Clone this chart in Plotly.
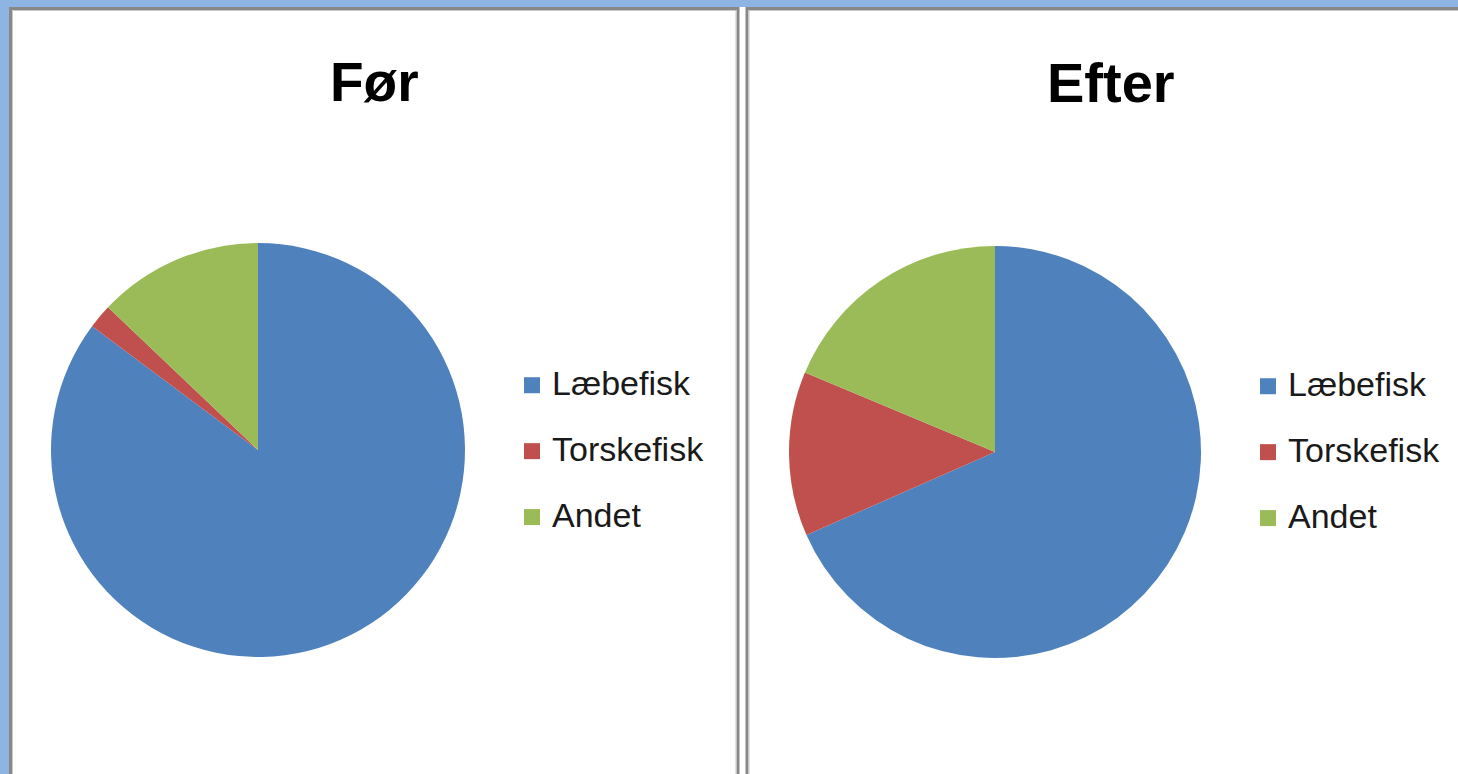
import plotly.graph_objects as go

W, H = 1458, 774

categories = ["Læbefisk", "Torskefisk", "Andet"]
foer_values = [85.2, 1.9, 12.9]
efter_values = [68.4, 12.9, 18.7]
titles = ["Før", "Efter"]
colors = ["#4F81BD", "#C0504D", "#9BBB59"]

FONT = "Liberation Sans, Arial, sans-serif"
LEG_TEXT = 34


def px(x):
    return x / W


def py(y):
    return 1 - y / H


def legend_label(c):
    # trailing empty line widens the legend row spacing
    return f"<span style='font-size:{LEG_TEXT}px'>{c}</span><br>"


fig = go.Figure()

pies = [
    (foer_values, [px(51), px(465)], [py(657), py(243)], "legend"),
    (efter_values, [px(789), px(1201)], [py(658), py(246)], "legend2"),
]
for vals, dx, dy, leg in pies:
    fig.add_trace(go.Pie(
        labels=categories, values=vals, sort=False, direction="clockwise", rotation=0,
        marker=dict(colors=colors, line=dict(width=0)), textinfo="none",
        hoverinfo="label+percent", domain=dict(x=dx, y=dy), showlegend=False,
    ))
    # legend entries (square swatches)
    for cat, col in zip(categories, colors):
        fig.add_trace(go.Scatter(
            x=[None], y=[None], mode="markers", name=legend_label(cat),
            marker=dict(symbol="square", size=16, color=col), legend=leg, hoverinfo="skip",
        ))

legend_style = dict(font=dict(family=FONT, size=24.2, color="#1a1a1a"), valign="top",
                    bgcolor="rgba(0,0,0,0)", yanchor="top", xanchor="left", itemclick=False,
                    itemdoubleclick=False, itemsizing="trace")
fig.update_layout(
    legend=dict(x=px(512), y=py(363), **legend_style),
    legend2=dict(x=px(1248), y=py(364), **legend_style),
)

shapes = [
    dict(type="rect", xref="paper", yref="paper", x0=px(9), x1=1.01, y0=-0.01, y1=py(7),
         fillcolor="white", line=dict(width=0), layer="below"),
    dict(type="rect", xref="paper", yref="paper", x0=px(10.5), x1=px(738), y0=-0.05, y1=py(8.5),
         line=dict(color="#888888", width=3), layer="above"),
    dict(type="rect", xref="paper", yref="paper", x0=px(12.5), x1=px(736), y0=-0.05, y1=py(10.5),
         line=dict(color="#C8C8C8", width=1), layer="above"),
    dict(type="rect", xref="paper", yref="paper", x0=px(747), x1=1.05, y0=-0.05, y1=py(8.5),
         line=dict(color="#888888", width=3), layer="above"),
    dict(type="rect", xref="paper", yref="paper", x0=px(749), x1=1.05, y0=-0.05, y1=py(10.5),
         line=dict(color="#C8C8C8", width=1), layer="above"),
]

annotations = [
    dict(text=f"<b>{titles[0]}</b>", x=px(374), y=py(82), xref="paper", yref="paper",
         showarrow=False, xanchor="center", yanchor="middle",
         font=dict(family=FONT, size=55, color="black")),
    dict(text=f"<b>{titles[1]}</b>", x=px(1111), y=py(82), xref="paper", yref="paper",
         showarrow=False, xanchor="center", yanchor="middle",
         font=dict(family=FONT, size=56, color="black")),
]

fig.update_layout(
    width=W, height=H, margin=dict(l=0, r=0, t=0, b=0),
    paper_bgcolor="#8DB4E2", plot_bgcolor="rgba(0,0,0,0)",
    xaxis=dict(visible=False), yaxis=dict(visible=False),
    shapes=shapes, annotations=annotations, showlegend=True,
)

fig.write_html("out.html", config={"displayModeBar": False},
               post_script="document.body.style.margin='0';document.body.style.overflow='hidden';")
